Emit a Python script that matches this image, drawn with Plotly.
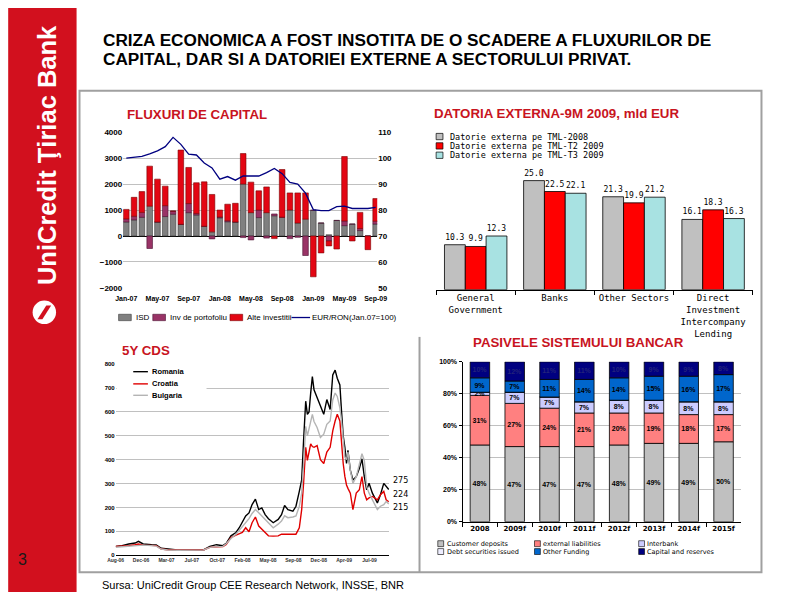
import plotly.graph_objects as go

# Page is 800x600; the browser's default 8px body margin surrounds the figure.
PAGE_MARGIN = 8
W, H = 800 - 2 * PAGE_MARGIN, 600 - 2 * PAGE_MARGIN
def X(p): return (p - PAGE_MARGIN) / W
def Y(p): return 1 - (p - PAGE_MARGIN) / H

FONT = "Liberation Sans, Arial, sans-serif"
WIDE = "DejaVu Sans, Verdana, sans-serif"
MONO = "DejaVu Sans Mono, monospace"
RED_TITLE = "#c8141e"

# ---------------- Data: Fluxuri de capital (mil EUR) ----------------
flux_months = ["Jan-07","Feb-07","Mar-07","Apr-07","May-07","Jun-07","Jul-07","Aug-07","Sep-07","Oct-07","Nov-07","Dec-07",
               "Jan-08","Feb-08","Mar-08","Apr-08","May-08","Jun-08","Jul-08","Aug-08","Sep-08","Oct-08","Nov-08","Dec-08",
               "Jan-09","Feb-09","Mar-09","Apr-09","May-09","Jun-09","Jul-09","Aug-09","Sep-09"]
flux_isd = [540, 620, 720, 1150, 540, 750, 840, 450, 900, 810, 375, 160,
            700, 550, 540, 2000, 900, 710, 900, 780, 725, 1000, 500, 650,
            990, 500, 50, 600, 400, 460, 210, 0, 460]
flux_portofoliu = [120, 140, 190, -480, 0, 420, 120, 0, 350, 60, 0, -110,
                   30, 40, 0, -60, -150, 290, -80, 70, 0, -100, -50, -750,
                   0, 0, -190, 0, 180, 0, 80, 0, 110]
flux_alte = [365, 730, 800, 1540, 1650, 750, 0, 2860, 1390, 1180, 1710, 1440,
             270, 635, 720, 1175, 1175, 740, 990, -100, 1835, 660, 1160, 1010,
             -1570, -650, -190, -500, 2480, -190, 620, -525, 870]
eur_ron_index = [100, 100.3, 100.7, 101.6, 102.8, 104.4, 108, 105.3, 101.5, 101.2, 98.1, 96.2,
                 91.9, 92.9, 91.5, 93.1, 93.1, 93.1, 94.4, 96, 94, 90.6, 90, 86.5,
                 80.2, 79.8, 79.8, 81.3, 81.5, 80.6, 80.6, 80.6, 81]
flux_tick_labels = ["Jan-07","May-07","Sep-07","Jan-08","May-08","Sep-08","Jan-09","May-09","Sep-09"]
flux_names = ["ISD", "Inv de portofoliu", "Alte investitii", "EUR/RON(Jan.07=100)"]

# ---------------- Data: Datoria externa 9M 2009 (mld EUR) ----------------
datoria_categories = ["General<br>Government", "Banks", "Other Sectors", "Direct<br>Investment<br>Intercompany<br>Lending"]
datoria_2008 = [10.3, 25.0, 21.3, 16.1]
datoria_t2_2009 = [9.9, 22.5, 19.9, 18.3]
datoria_t3_2009 = [12.3, 22.1, 21.2, 16.3]
datoria_names = ["Datorie externa pe TML-2008", "Datorie externa pe TML-T2 2009", "Datorie externa pe TML-T3 2009"]

# ---------------- Data: 5Y CDS (bp) ----------------
cds_dates = ["2006-08-24","2006-09-20","2006-10-18","2006-11-14","2006-11-28","2006-12-18","2007-01-22","2007-02-11","2007-03-04","2007-03-31",
             "2007-05-11","2007-07-05","2007-08-29","2007-09-25","2007-10-23","2007-11-19","2007-12-03","2007-12-23","2008-01-13","2008-01-27",
             "2008-02-09","2008-02-23","2008-03-08","2008-03-21","2008-04-04","2008-04-18","2008-05-01","2008-05-15","2008-05-29","2008-06-18",
             "2008-07-09","2008-07-23","2008-08-05","2008-08-19","2008-09-09","2008-09-22","2008-10-06","2008-10-16","2008-10-24","2008-11-02",
             "2008-11-09","2008-11-16","2008-11-23","2008-11-30","2008-12-07","2008-12-20","2009-01-03","2009-01-17","2009-01-30","2009-02-13",
             "2009-02-24","2009-03-06","2009-03-15","2009-03-26","2009-04-02","2009-04-09","2009-04-16","2009-04-23","2009-04-29","2009-05-09",
             "2009-05-20","2009-06-03","2009-06-16","2009-06-27","2009-07-07","2009-07-17","2009-07-27","2009-08-10","2009-08-31","2009-09-13",
             "2009-09-27","2009-10-07","2009-10-18"]
cds_romania = [37,40,47,51,58,47,44,43,29,26, 22,22,22,37,44,40,50,81,95,115,
               136,164,177,212,235,191,198,170,153,136, 150,170,208,191,184,205,267,315,480,645,
               590,600,680,748,693,658,624,590,652,610, 755,775,741,713,603,500,452,384,439,356,
               315,329,363,404,329,274,301,260,219,253, 301,287,275]
cds_croatia = [37,37,40,44,47,42,40,40,26,23, 22,22,22,33,35,36,45,74,84,90,
               95,115,98,136,160,122,110,95,81,80, 81,88,88,88,85,88,115,191,301,452,
               397,430,466,455,452,459,400,384,432,452, 521,562,590,562,452,384,330,294,280,260,
               191,260,274,329,260,232,240,246,232,253, 267,232,224]
cds_bulgaria = [33,35,37,40,43,42,40,38,26,22, 21,21,22,33,36,37,48,70,88,105,
                122,138,153,175,191,178,164,150,136,115, 130,143,165,157,160,164,205,260,380,540,
                500,530,560,590,560,535,493,507,548,562, 650,679,665,617,560,466,411,400,432,356,
                301,329,380,425,397,287,260,232,191,205, 212,225,215]
cds_names = ["Romania", "Croatia", "Bulgaria"]

# ---------------- Data: Pasivele sistemului bancar (%) ----------------
pas_years = ["2008", "2009f", "2010f", "2011f", "2012f", "2013f", "2014f", "2015f"]
pas_deposits = [48, 47, 47, 47, 48, 49, 49, 50]
pas_external = [31, 27, 24, 21, 20, 19, 18, 17]
pas_interbank = [2, 7, 7, 7, 8, 8, 8, 8]
pas_debt = [0, 0, 0, 0, 0, 0, 0, 0]
pas_other = [9, 7, 11, 14, 14, 15, 16, 17]
pas_capital = [10, 12, 11, 11, 10, 9, 9, 8]
pas_names = ["Customer deposits", "external liabilities", "Interbank", "Debt securities issued", "Other Funding", "Capital and reserves"]

# ====================================================================
fig = go.Figure()

# --- Fluxuri de capital ---
flux_colors = ["#808080", "#993366", "#e30613"]
flux_edges = ["#3a3a3a", "#4a1030", "#7a0000"]
for vals, name, c, e in zip([flux_isd, flux_portofoliu, flux_alte], flux_names[:3], flux_colors, flux_edges):
    fig.add_trace(go.Bar(x=flux_months, y=vals, name=name, width=0.72,
                         marker=dict(color=c, line=dict(color=e, width=0.6)),
                         xaxis="x", yaxis="y", showlegend=False))
fig.add_trace(go.Scatter(x=flux_months, y=eur_ron_index, name=flux_names[3], mode="lines",
                         line=dict(color="#000080", width=1.3), xaxis="x", yaxis="y2", showlegend=False))

# --- Datoria externa ---
dat_colors = ["#c0c0c0", "#ff0000", "#a8e2e2"]
bw = 0.263
for k, (vals, name, c) in enumerate(zip([datoria_2008, datoria_t2_2009, datoria_t3_2009], datoria_names, dat_colors)):
    xs = [i + (k - 1) * bw for i in range(len(datoria_categories))]
    fig.add_trace(go.Bar(x=xs, y=vals, width=bw, name=name,
                         marker=dict(color=c, line=dict(color="#000000", width=0.8)),
                         text=[f"{v:.1f}" for v in vals], textposition="outside", textangle=0,
                         textfont=dict(family=MONO, size=8, color="#000000"), cliponaxis=False,
                         xaxis="x2", yaxis="y3", showlegend=False))

# --- 5Y CDS ---
cds_colors = ["#000000", "#e00000", "#b4b4b4"]
for vals, name, c in zip([cds_romania, cds_croatia, cds_bulgaria], cds_names, cds_colors):
    fig.add_trace(go.Scatter(x=cds_dates, y=vals, name=name, mode="lines",
                             line=dict(color=c, width=1.4), xaxis="x3", yaxis="y4", showlegend=False))

# --- Pasivele sistemului bancar ---
pas_series = [pas_deposits, pas_external, pas_interbank, pas_debt, pas_other, pas_capital]
pas_colors = ["#c0c0c0", "#ff8080", "#ccccff", "#eeeeff", "#0066cc", "#000080"]
pas_text_colors = ["#000000", "#000000", "#000000", "#000000", "#000000", "#23237a"]
for vals, name, c, tc in zip(pas_series, pas_names, pas_colors, pas_text_colors):
    fig.add_trace(go.Bar(x=pas_years, y=vals, name=name, width=0.56,
                         marker=dict(color=c, line=dict(color="#000000", width=0.8)),
                         text=[f"{v}%" if v else "" for v in vals], textposition="inside",
                         insidetextanchor="middle", constraintext="none", textangle=0,
                         textfont=dict(family=FONT, size=7, color=tc, weight="bold"),
                         xaxis="x4", yaxis="y5", showlegend=False))

grid = "#c0c0c0"
fig.update_layout(
    width=W, height=H, autosize=False,
    margin=dict(l=0, r=0, t=0, b=0),
    paper_bgcolor="white", plot_bgcolor="white",
    barmode="relative", bargap=0, hovermode=False,
    font=dict(family=FONT, color="#000000"),
    # flux
    xaxis=dict(domain=[X(117.7), X(377.7)], anchor="y", type="category", range=[-0.4, 32.2],
               tickmode="array", tickvals=flux_tick_labels, ticktext=flux_tick_labels, tickangle=0,
               tickfont=dict(size=7, weight="bold"), showgrid=False, showline=False, ticks="",
               zeroline=False, ticklabelstandoff=5),
    yaxis=dict(domain=[Y(288.3), Y(130)], anchor="x", range=[-2000, 4000], dtick=1000,
               showgrid=True, gridcolor=grid, gridwidth=1, zeroline=True, zerolinecolor="#000000",
               zerolinewidth=1, tickfont=dict(size=8, weight="bold"), ticks="", showline=False),
    yaxis2=dict(overlaying="y", side="right", anchor="x", range=[50, 110], dtick=10,
                showgrid=False, zeroline=False, tickfont=dict(size=8, weight="bold"), ticks=""),
    # datoria
    xaxis2=dict(domain=[X(438), X(762)], anchor="y3", range=[-0.5, 3.5],
                tickmode="array", tickvals=list(range(len(datoria_categories))), ticktext=datoria_categories,
                tickangle=0, tickfont=dict(family=MONO, size=9), ticks="", showgrid=False, zeroline=False,
                showline=True, linecolor="#000000", linewidth=1,
                minor=dict(tickmode="array", tickvals=[-0.5, 0.5, 1.5, 2.5, 3.5], ticks="outside",
                           ticklen=4, tickcolor="#000000", showgrid=False)),
    yaxis3=dict(domain=[Y(290), Y(157.1)], anchor="x2", range=[0, 30], visible=False),
    # cds
    xaxis3=dict(domain=[X(110), X(390)], anchor="y4", type="date", range=["2006-08-24", "2009-10-20"],
                tick0="2006-08-24", dtick=107 * 86400000, tickformat="%b-%y",
                tickfont=dict(size=5, color="#333333", weight="bold"), showgrid=False, zeroline=False,
                showline=True, linecolor="#000000", linewidth=1, ticks=""),
    yaxis4=dict(domain=[Y(559.7), Y(365.7)], anchor="x3", range=[0, 800], dtick=100,
                showgrid=True, gridcolor=grid, zeroline=False, tickfont=dict(size=6, weight="bold"), ticks=""),
    # pasivele
    xaxis4=dict(domain=[X(465), X(750)], anchor="y5", type="category", tickson="boundaries",
                ticks="outside", ticklen=4, tickcolor="#000000", showline=True, linecolor="#000000",
                linewidth=1, tickfont=dict(family=WIDE, size=7, weight="bold"), showgrid=False),
    yaxis5=dict(domain=[Y(525.7), Y(363.3)], anchor="x4", range=[0, 100], dtick=20, ticksuffix="%",
                showline=True, linecolor="#000000", linewidth=1, ticks="outside", ticklen=3,
                tickcolor="#000000", showgrid=True, gridcolor=grid, zeroline=False,
                tickfont=dict(size=7, weight="bold")),
)

shapes = []
ann = []

def rect(x0, y0, x1, y1, fill=None, line=None, lw=0, layer="above"):
    d = dict(type="rect", xref="paper", yref="paper", x0=X(x0), x1=X(x1), y0=Y(y1), y1=Y(y0),
             layer=layer, line=dict(width=lw, color=line or "rgba(0,0,0,0)"))
    if fill:
        d["fillcolor"] = fill
    shapes.append(d)

def hline(x0, x1, y, color, width):
    shapes.append(dict(type="line", xref="paper", yref="paper", x0=X(x0), x1=X(x1), y0=Y(y), y1=Y(y),
                       line=dict(color=color, width=width)))

def text(x, y, s, size, color="#000000", family=FONT, bold=False, xanchor="left", yanchor="middle", angle=0):
    ann.append(dict(xref="paper", yref="paper", x=X(x), y=Y(y), text=s, showarrow=False,
                    xanchor=xanchor, yanchor=yanchor, textangle=angle, borderpad=0,
                    font=dict(size=size, color=color, family=family, weight="bold" if bold else "normal")))

# sidebar
rect(0, 0, 70, 600, fill="#d2101e")
text(39, 153, "UniCredit Ţiriac Bank", 25.5, color="white", bold=True, xanchor="center", angle=-90)
shapes.append(dict(type="circle", xref="paper", yref="paper", x0=X(25), x1=X(49), y0=Y(325), y1=Y(301),
                   fillcolor="white", line=dict(width=0)))
shapes.append(dict(type="path", xref="paper", yref="paper",
                   path=f"M {X(30)} {Y(320)} L {X(39)} {Y(306)} L {X(44)} {Y(306)} L {X(35)} {Y(320)} Z",
                   fillcolor="#d2101e", line=dict(width=0)))
text(15, 564, "3", 16, color="#1a1a1a", xanchor="center")

# frame
rect(73, 88, 771, 577, line="#a0a0a0", lw=2)
shapes.append(dict(type="line", xref="paper", yref="paper", x0=X(421), x1=X(421), y0=Y(577), y1=Y(338),
                   line=dict(color="#a0a0a0", width=2)))

# main title
text(96, 36.5, "CRIZA ECONOMICA A FOST INSOTITA DE O SCADERE A FLUXURILOR DE", 17.2, bold=True)
text(96, 56, "CAPITAL, DAR SI A DATORIEI EXTERNE A SECTORULUI PRIVAT.", 17.2, bold=True)
text(95, 590, "Sursa: UniCredit Group CEE Research Network, INSSE, BNR", 11)

# chart titles
text(121, 112, "FLUXURI DE CAPITAL", 13.3, color=RED_TITLE, bold=True)
text(435, 111, "DATORIA EXTERNA-9M 2009, mld EUR", 13.3, color=RED_TITLE, bold=True)
text(115, 352, "5Y CDS", 13.3, color=RED_TITLE, bold=True)
text(475, 344, "PASIVELE SISTEMULUI BANCAR", 13.3, color=RED_TITLE, bold=True)

# flux legend
sw_x = [113, 148, 227]
tx_x = [130, 165, 243]
for name, c, e, sx, tx in zip(flux_names[:3], flux_colors, flux_edges, sw_x, tx_x):
    rect(sx, 315, sx + 13, 321.5, fill=c, line=e, lw=0.6)
    text(tx, 318.3, name, 8)
hline(290, 309, 318.3, "#000080", 1.3)
text(310, 318.3, flux_names[3], 8)

# datoria legend
for name, c, yy in zip(datoria_names, dat_colors, [134.5, 144.0, 153.5]):
    rect(438, yy - 3.2, 445, yy + 3.2, fill=c, line="#000000", lw=0.7)
    text(451, yy, name, 8.5, family=MONO)

# cds legend
rect(111, 368, 203, 403, fill="white")
for name, c, yy in zip(cds_names, cds_colors, [373.3, 385.7, 397.3]):
    hline(128, 143, yy, c, 1.4)
    text(146, yy, name, 7.5, bold=True)
for vals, ys in zip([cds_romania, cds_croatia, cds_bulgaria], [9, 7, -4]):
    ann.append(dict(xref="x3", yref="y4", x=cds_dates[-1], y=vals[-1], text=str(vals[-1]), showarrow=False,
                    xanchor="left", yanchor="middle", xshift=2, yshift=ys,
                    font=dict(size=8, family=WIDE, color="#000000")))

# pasivele legend
cols = [442.7, 541.7, 648.3]
rows = [548.0, 556.0]
for i, (name, c) in enumerate(zip(pas_names, pas_colors)):
    cx = cols[i % 3]
    ry = rows[i // 3]
    rect(cx - 3, ry - 3, cx + 3, ry + 3, fill=c, line="#000000", lw=0.6)
    text(cx + 5, ry, name, 6.5, family=WIDE)

fig.update_layout(shapes=shapes, annotations=ann)
fig.write_html("out.html", config={"displayModeBar": False, "staticPlot": True})
